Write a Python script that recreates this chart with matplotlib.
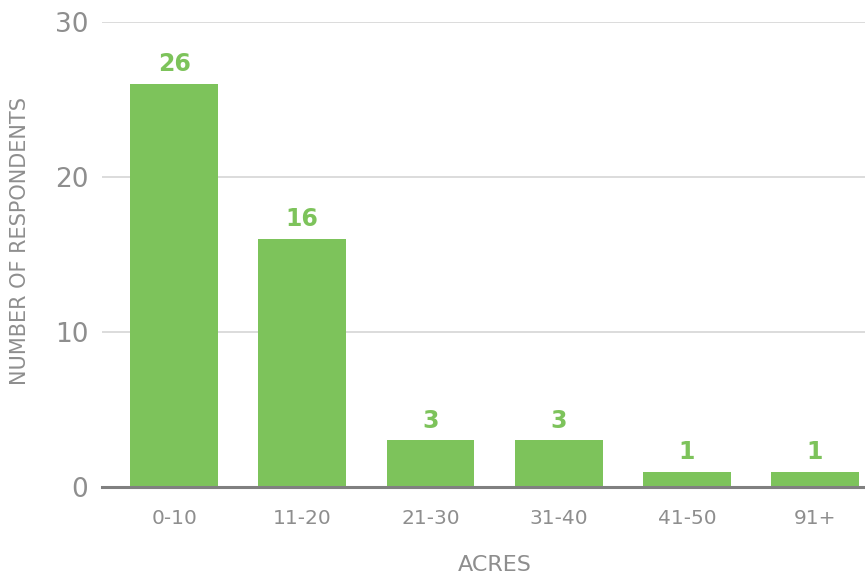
import matplotlib
matplotlib.use('Agg')
import matplotlib.pyplot as plt

categories = ['0-10', '11-20', '21-30', '31-40', '41-50', '91+']
respondents = [26, 16, 3, 3, 1, 1]
yticks = [0, 10, 20, 30]

green = '#7dc35b'
grey = '#8e8e8e'

plt.rcParams['font.family'] = ['DejaVu Sans']

fig = plt.figure(figsize=(8.65, 5.76), dpi=100)
ax = fig.add_axes([0.118, 0.1545, 0.882, 0.8075])

x = list(range(len(categories)))
ax.bar(x, respondents, width=0.686, color=green, zorder=3)
for xi, v in zip(x, respondents):
    ax.text(xi, v + 0.5, str(v), ha='center', va='bottom', color=green,
            fontsize=17, fontweight='heavy', zorder=4)

ax.set_xlim(-0.562, 5.39)
ax.set_ylim(0, 30)
ax.set_yticks(yticks)
ax.set_yticklabels([str(t) for t in yticks], fontsize=19, color=grey)
ax.set_xticks(x)
ax.set_xticklabels(categories, fontsize=14.5, color=grey)
ax.tick_params(axis='both', length=0)
ax.tick_params(axis='y', pad=10)
ax.tick_params(axis='x', pad=16)
ax.grid(axis='y', color='#d6d6d6', linewidth=1.2, zorder=0)

for s in ['top', 'right', 'left']:
    ax.spines[s].set_visible(False)
ax.spines['bottom'].set_color('#808080')
ax.spines['bottom'].set_linewidth(2.2)
ax.spines['bottom'].set_zorder(5)

fig.text(495 / 865, 1 - 565 / 576, 'ACRES', ha='center', va='center',
         fontsize=16, color=grey)
fig.text(20 / 865, 1 - 241 / 576, 'NUMBER OF RESPONDENTS', ha='center', va='center',
         rotation=90, fontsize=15, color=grey)

fig.savefig('out.png', dpi=100)
